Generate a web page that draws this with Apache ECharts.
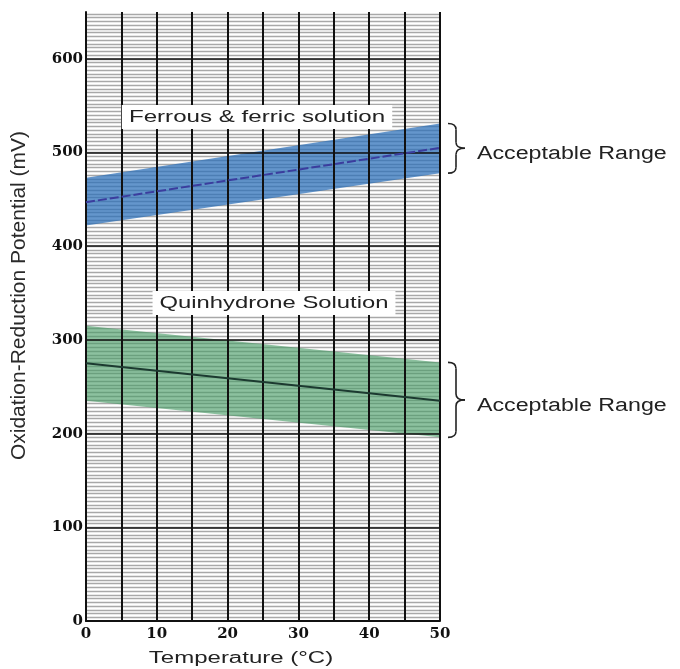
<!DOCTYPE html>
<html><head><meta charset="utf-8">
<script src="https://cdn.jsdelivr.net/npm/echarts@6/dist/echarts.min.js"></script>
<style>html,body{margin:0;padding:0;background:#fff}#c{width:680px;height:669px}</style>
</head><body><div id="c"></div>
<script>
// ---- data ----
const temps = [0, 50];                 // Temperature (°C)
const ferrousLower = [422, 478];       // mV
const ferrousUpper = [473, 531];
const ferrousMid = [447, 505];
const quinLower = [235, 196];
const quinUpper = [315, 276];
const quinMid = [275, 235];
const xTickLabels = [0, 10, 20, 30, 40, 50];
const yTickLabels = [0, 100, 200, 300, 400, 500, 600];
const bandLabels = ['Ferrous & ferric solution', 'Quinhydrone Solution'];
const rangeLabel = 'Acceptable Range';

const chart = echarts.init(document.getElementById('c'));

function bandRender(lower, upper, color) {
  return function (params, api) {
    const i = params.dataIndex;
    if (i >= temps.length - 1) return null;
    const pts = [
      api.coord([temps[i], upper[i]]),
      api.coord([temps[i + 1], upper[i + 1]]),
      api.coord([temps[i + 1], lower[i + 1]]),
      api.coord([temps[i], lower[i]])
    ];
    return { type: 'polygon', shape: { points: pts }, style: { fill: color } };
  };
}

const tickFont = { fontFamily: 'DejaVu Serif', fontWeight: 'bold', fontSize: 15, color: '#111' };

const option = {
  animation: false,
  backgroundColor: '#fff',
  grid: { left: 86, right: 240, top: 12, bottom: 48 },
  xAxis: {
    type: 'value', min: 0, max: 50, interval: 5, z: 3,
    axisLine: { show: true, onZero: false, lineStyle: { color: '#111', width: 2 } },
    axisTick: { show: false },
    axisLabel: Object.assign({ margin: 6, formatter: v => xTickLabels.indexOf(v) >= 0 ? String(v) : '' }, tickFont),
    splitLine: { show: true, lineStyle: { color: '#111', width: 2 } }
  },
  yAxis: [
    {
      type: 'value', min: 0, max: 650, interval: 100, z: 3,
      name: 'Oxidation-Reduction Potential (mV)',
      nameLocation: 'middle', nameGap: 56, nameRotate: 90,
      nameTextStyle: { fontFamily: 'Liberation Sans', fontSize: 21, color: '#2a2a2a', padding: [0, 0, 0, 42] },
      axisLine: { show: true, onZero: false, lineStyle: { color: '#111', width: 2 } },
      axisTick: { show: false },
      axisLabel: Object.assign({ margin: 3, formatter: v => yTickLabels.indexOf(v) >= 0 ? String(v) : '' }, tickFont),
      splitLine: { show: true, showMaxLine: false, lineStyle: { color: '#111', width: 1.5 } }
    },
    {
      type: 'value', min: 0, max: 650, interval: 4, z: 0, position: 'left',
      axisLine: { show: false }, axisTick: { show: false }, axisLabel: { show: false },
      splitLine: { show: true, showMaxLine: false, showMinLine: false, lineStyle: { color: '#a8a8a8', width: 1.3 } }
    }
  ],
  series: [
    {
      type: 'custom', z: 1, yAxisIndex: 0,
      data: temps.map((t, i) => [t, ferrousLower[i], ferrousUpper[i]]),
      encode: { x: 0, y: [1, 2] },
      renderItem: bandRender(ferrousLower, ferrousUpper, 'rgba(40,110,185,0.72)')
    },
    {
      type: 'custom', z: 1, yAxisIndex: 0,
      data: temps.map((t, i) => [t, quinLower[i], quinUpper[i]]),
      encode: { x: 0, y: [1, 2] },
      renderItem: bandRender(quinLower, quinUpper, 'rgba(70,155,100,0.62)')
    },
    {
      type: 'line', z: 4, yAxisIndex: 0, symbol: 'none',
      data: temps.map((t, i) => [t, ferrousMid[i]]),
      lineStyle: { color: '#3b3d9e', width: 2, type: [9, 3] }
    },
    {
      type: 'line', z: 4, yAxisIndex: 0, symbol: 'none',
      data: temps.map((t, i) => [t, quinMid[i]]),
      lineStyle: { color: '#1c3a30', width: 2 }
    }
  ]
};
chart.setOption(option);

function px(x, y) { return chart.convertToPixel({ xAxisIndex: 0, yAxisIndex: 0 }, [x, y]); }
const braceStyle = { stroke: '#222', fill: null, lineWidth: 1.6 };
function braceParts(x0, yTop, yBot) {
  const xm = x0 + 8, xt = x0 + 17, mid = (yTop + yBot) / 2, r = 6;
  const q = (x1, y1, cx, cy, x2, y2) => ({ type: 'bezierCurve', z: 10,
    shape: { x1: x1, y1: y1, cpx1: cx, cpy1: cy, x2: x2, y2: y2 }, style: braceStyle });
  const l = (x1, y1, x2, y2) => ({ type: 'line', z: 10, shape: { x1: x1, y1: y1, x2: x2, y2: y2 }, style: braceStyle });
  return [
    q(x0, yTop, xm, yTop, xm, yTop + r),
    l(xm, yTop + r, xm, mid - r),
    q(xm, mid - r, xm, mid, xt, mid),
    q(xt, mid, xm, mid, xm, mid + r),
    l(xm, mid + r, xm, yBot - r),
    q(xm, yBot - r, xm, yBot, x0, yBot)
  ];
}
const last = temps.length - 1;
const right = px(temps[last], 0)[0];
const b1t = px(temps[last], ferrousUpper[last])[1], b1b = px(temps[last], ferrousLower[last])[1];
const b2t = px(temps[last], quinUpper[last])[1], b2b = px(temps[last], quinLower[last])[1];
const bx = right + 8;

function rangeText(y) {
  return { type: 'text', x: bx + 29, y: y, scaleX: 1.29, z: 10,
    style: { text: rangeLabel, font: '18px "Liberation Sans"', fill: '#222', align: 'left', verticalAlign: 'middle' } };
}
function boxText(x, y, txt, sx) {
  return { type: 'text', x: x, y: y, scaleX: sx, z: 10,
    style: { text: txt, font: '17px "Liberation Sans"', fill: '#222', align: 'center', verticalAlign: 'middle',
      backgroundColor: '#fff', padding: [4, 5, 3, 5] } };
}

chart.setOption({
  graphic: [].concat(
    braceParts(bx, b1t, b1b),
    braceParts(bx, b2t, b2b),
    [
      rangeText((b1t + b1b) / 2 + 6),
      rangeText((b2t + b2b) / 2 + 6),
      boxText(257, 117, bandLabels[0], 1.42),
      boxText(274, 303, bandLabels[1], 1.4),
      { type: 'text', x: 241, y: 659, scaleX: 1.5, z: 10,
        style: { text: 'Temperature (°C)', font: '16px "Liberation Sans"', fill: '#222', align: 'center', verticalAlign: 'middle' } }
    ]
  )
});
</script>
</body></html>
